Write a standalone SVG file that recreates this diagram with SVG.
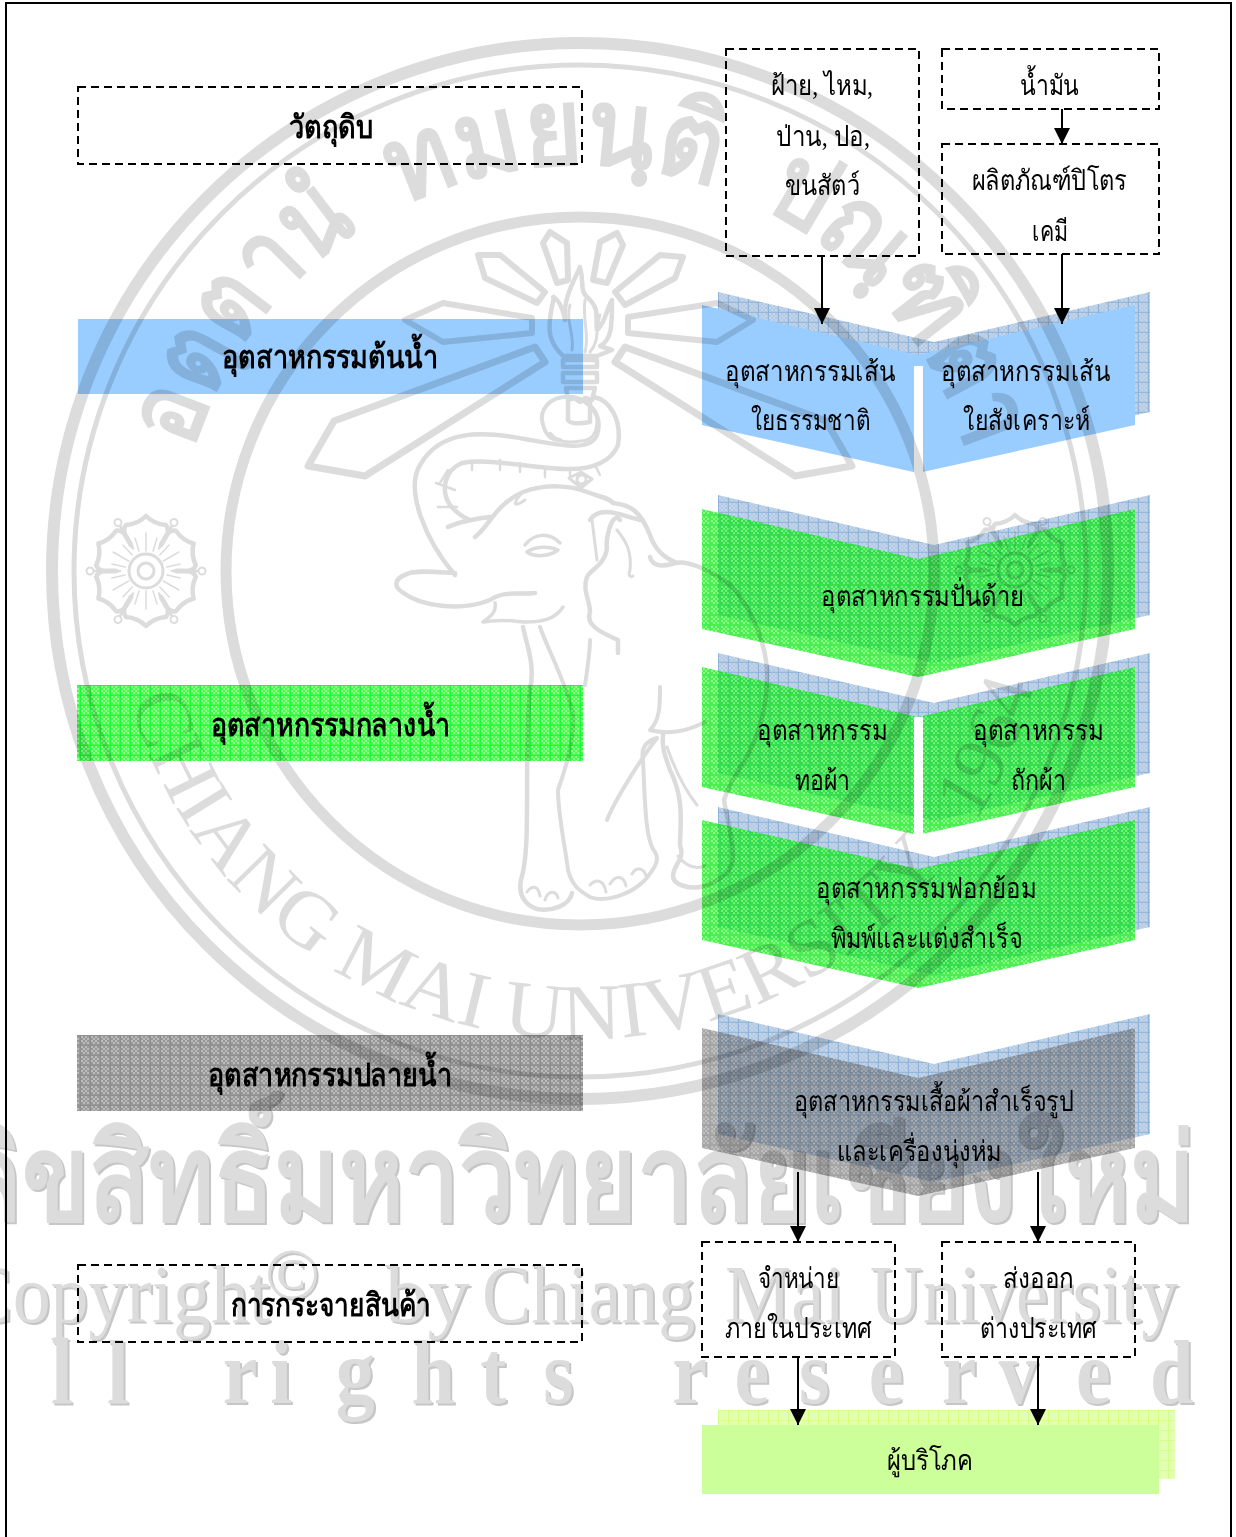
<svg xmlns="http://www.w3.org/2000/svg" xmlns:xlink="http://www.w3.org/1999/xlink" width="1236" height="1537" viewBox="0 0 1236 1537">
<style>
text{font-family:"Liberation Serif","DejaVu Serif","Noto Sans",serif;fill:#000;font-size:28px}
.b{font-weight:700;font-size:32px}
.dash{fill:none;stroke:#000;stroke-width:2;stroke-dasharray:8 5}
.arrow{fill:none;stroke:#000;stroke-width:2;marker-end:url(#ah)}
.wm{mix-blend-mode:multiply}
.wm path,.wm circle,.wm line,.wm polygon,.wm rect,#flower path,#flower circle{fill:none;stroke:#dcdcdc;stroke-width:4.5;stroke-linejoin:round;stroke-linecap:round}
.wm text{fill:#dcdcdc}
.wb{font-weight:700}
</style>
<defs>
<marker id="ah" markerUnits="userSpaceOnUse" markerWidth="18" markerHeight="18" refX="16" refY="8" orient="auto"><path d="M0,0L16,8L0,16Z" fill="#000"/></marker>
<pattern id="pg" width="10" height="10" patternUnits="userSpaceOnUse" x="0" y="5">
<rect width="10" height="10" fill="#44ff44"/>
<path d="M1,1h2v2h-2zM5,1h2v2h-2zM3,3h2v2h-2zM7,3h2v2h-2zM1,5h2v2h-2zM5,5h2v2h-2zM3,7h2v2h-2zM7,7h2v2h-2z" fill="#99ff99"/>
<path d="M0,0H10M0,0V10" stroke="#00f535" stroke-width="1.2"/>
</pattern>
<pattern id="pgc" width="10" height="10" patternUnits="userSpaceOnUse" x="0" y="5">
<rect width="10" height="10" fill="#00e800"/>
<path d="M1,1h2v2h-2zM5,1h2v2h-2zM3,3h2v2h-2zM7,3h2v2h-2zM1,5h2v2h-2zM5,5h2v2h-2zM3,7h2v2h-2zM7,7h2v2h-2z" fill="#55ff55"/>
<path d="M0,0H10M0,0V10" stroke="#00dd22" stroke-width="1.2"/>
</pattern>
<pattern id="pk" width="10" height="10" patternUnits="userSpaceOnUse" x="0" y="5">
<rect width="10" height="10" fill="#989898"/>
<path d="M1,1h2v2h-2zM5,1h2v2h-2zM3,3h2v2h-2zM7,3h2v2h-2zM1,5h2v2h-2zM5,5h2v2h-2zM3,7h2v2h-2zM7,7h2v2h-2z" fill="#bbbbbb"/>
<path d="M0,0H10M0,0V10" stroke="#868686" stroke-width="1.2"/>
</pattern>
<pattern id="pkc" width="10" height="10" patternUnits="userSpaceOnUse" x="0" y="5">
<rect width="10" height="10" fill="#606060"/>
<path d="M1,1h2v2h-2zM5,1h2v2h-2zM3,3h2v2h-2zM7,3h2v2h-2zM1,5h2v2h-2zM5,5h2v2h-2zM3,7h2v2h-2zM7,7h2v2h-2z" fill="#8a8a8a"/>
<path d="M0,0H10M0,0V10" stroke="#505050" stroke-width="1.2"/>
</pattern>
<pattern id="ps" width="10" height="10" patternUnits="userSpaceOnUse" x="8" y="2">
<rect width="10" height="10" fill="#b2c9e4"/>
<path d="M1,1h2v2h-2zM5,1h2v2h-2zM3,3h2v2h-2zM7,3h2v2h-2zM1,5h2v2h-2zM5,5h2v2h-2zM3,7h2v2h-2zM7,7h2v2h-2z" fill="#c6d6e8"/>
<path d="M0,0H10M0,0V10" stroke="#7ba7d4" stroke-width="1.2"/>
</pattern>
<pattern id="py" width="10" height="10" patternUnits="userSpaceOnUse" x="8" y="0">
<rect width="10" height="10" fill="#e2ffb2"/>
<path d="M0,0H10M0,0V10" stroke="#ccff66" stroke-width="1.2"/>
</pattern>
<path id="tp" d="M193,450A405,405 0 0 1 967,450" fill="none"/>
<path id="bp" d="M130,700A468,468 0 0 0 1048,571" fill="none"/>
<filter id="ds" x="-5%" y="-5%" width="110%" height="110%"><feFlood flood-color="#c6c6c6" result="c"/><feComposite in="c" in2="SourceAlpha" operator="in"/><feOffset dx="2" dy="2"/><feMerge><feMergeNode/><feMergeNode in="SourceGraphic"/></feMerge></filter>
<g id="flower">
<g id="lobe"><path d="M-15,-26C-20,-34 -25,-40 -20,-46Q-8,-47 0,-55Q8,-47 20,-46C25,-40 20,-34 15,-26"/><path d="M0,-20V-38M-7,-20L-11,-33M7,-20L11,-33" style="stroke-width:1.5"/></g>
<use xlink:href="#lobe" transform="rotate(60)"/><use xlink:href="#lobe" transform="rotate(120)"/><use xlink:href="#lobe" transform="rotate(180)"/><use xlink:href="#lobe" transform="rotate(240)"/><use xlink:href="#lobe" transform="rotate(300)"/>
<g id="sp"><path d="M0,-26V-52" transform="rotate(30)" style="stroke-width:2.5"/><circle cx="0" cy="-56" r="3.5" transform="rotate(30)" style="stroke-width:2"/></g>
<use xlink:href="#sp" transform="rotate(60)"/><use xlink:href="#sp" transform="rotate(120)"/><use xlink:href="#sp" transform="rotate(180)"/><use xlink:href="#sp" transform="rotate(240)"/><use xlink:href="#sp" transform="rotate(300)"/>
<circle r="8" style="stroke-width:3"/><circle r="17" style="stroke-width:3"/>
</g>
</defs>
<rect width="1236" height="1537" fill="#fff"/>
<path d="M6,1537V3H1231V1537" fill="none" stroke="#000" stroke-width="2"/>

<g id="node-raw-label"><rect class="dash" x="78" y="87" width="504" height="77"/><text class="b" x="289" y="138" textLength="84" lengthAdjust="spacingAndGlyphs">วัตถุดิบ</text></g>
<g id="node-up-label"><rect x="78" y="319" width="505" height="75" fill="#99ccff"/><text class="b" x="222" y="368" textLength="216" lengthAdjust="spacingAndGlyphs">อุตสาหกรรมต้นน้ำ</text></g>
<g id="node-mid-label"><rect x="77" y="685" width="506" height="76" fill="url(#pg)"/><text class="b" x="211" y="736" textLength="239" lengthAdjust="spacingAndGlyphs">อุตสาหกรรมกลางน้ำ</text></g>
<g id="node-down-label"><rect x="77" y="1035" width="506" height="76" fill="url(#pk)"/><text class="b" x="208" y="1086" textLength="244" lengthAdjust="spacingAndGlyphs">อุตสาหกรรมปลายน้ำ</text></g>
<g id="node-dist-label"><rect class="dash" x="78" y="1265" width="504" height="77"/><text class="b" x="231" y="1316" textLength="200" lengthAdjust="spacingAndGlyphs">การกระจายสินค้า</text></g>

<g id="node-natural-raw"><rect class="dash" x="726" y="49" width="193" height="207"/><text x="771" y="95" textLength="102" lengthAdjust="spacingAndGlyphs">ฝ้าย, ไหม,</text><text x="776" y="146" textLength="94" lengthAdjust="spacingAndGlyphs">ป่าน, ปอ,</text><text x="785" y="195" textLength="75" lengthAdjust="spacingAndGlyphs">ขนสัตว์</text></g>
<g id="node-oil"><rect class="dash" x="942" y="49" width="217" height="60"/><text x="1020" y="95" textLength="59" lengthAdjust="spacingAndGlyphs">น้ำมัน</text></g>
<g id="node-petro"><rect class="dash" x="942" y="144" width="217" height="110"/><text x="972" y="190" textLength="155" lengthAdjust="spacingAndGlyphs">ผลิตภัณฑ์ปิโตร</text><text x="1032" y="241" textLength="36" lengthAdjust="spacingAndGlyphs">เคมี</text></g>

<g id="node-fiber">
<polygon points="718,292 934,342 1150,292 1150,412 934,460 718,412" fill="url(#ps)"/>
<polygon points="702,305 918,355 1135,305 1135,425 918,473 702,425" fill="#99ccff"/>
<rect x="914" y="366" width="9" height="109" fill="#fff"/>
<text x="725" y="381" textLength="170" lengthAdjust="spacingAndGlyphs">อุตสาหกรรมเส้น</text><text x="751" y="430" textLength="119" lengthAdjust="spacingAndGlyphs">ใยธรรมชาติ</text>
<text x="941" y="381" textLength="169" lengthAdjust="spacingAndGlyphs">อุตสาหกรรมเส้น</text><text x="963" y="430" textLength="127" lengthAdjust="spacingAndGlyphs">ใยสังเคราะห์</text>
</g>
<g id="node-spin">
<polygon points="718,495 934,545 1150,495 1150,615 934,663 718,615" fill="url(#ps)"/>
<polygon opacity=".7" points="702,509 918,559 1135,509 1135,629 918,677 702,629" fill="url(#pgc)"/>
<text x="821" y="606" textLength="203" lengthAdjust="spacingAndGlyphs">อุตสาหกรรมปั่นด้าย</text>
</g>
<g id="node-weave">
<polygon points="718,653 934,703 1150,653 1150,773 934,821 718,773" fill="url(#ps)"/>
<polygon opacity=".7" points="702,667 918,717 1135,667 1135,787 918,835 702,787" fill="url(#pgc)"/>
<rect x="914" y="717" width="9" height="120" fill="#fff"/>
<text x="757" y="740" textLength="130" lengthAdjust="spacingAndGlyphs">อุตสาหกรรม</text><text x="795" y="790" textLength="55" lengthAdjust="spacingAndGlyphs">ทอผ้า</text>
<text x="973" y="740" textLength="130" lengthAdjust="spacingAndGlyphs">อุตสาหกรรม</text><text x="1011" y="790" textLength="55" lengthAdjust="spacingAndGlyphs">ถักผ้า</text>
</g>
<g id="node-dye">
<polygon points="718,807 934,857 1150,807 1150,927 934,975 718,927" fill="url(#ps)"/>
<polygon opacity=".7" points="702,820 918,869 1135,820 1135,940 918,988 702,940" fill="url(#pgc)"/>
<text x="816" y="898" textLength="220" lengthAdjust="spacingAndGlyphs">อุตสาหกรรมฟอกย้อม</text><text x="831" y="948" textLength="191" lengthAdjust="spacingAndGlyphs">พิมพ์และแต่งสำเร็จ</text>
</g>
<g id="node-garment">
<polygon points="718,1014 934,1064 1150,1014 1150,1134 934,1182 718,1134" fill="url(#ps)"/>
<polygon opacity=".55" points="702,1028 918,1078 1135,1028 1135,1148 918,1196 702,1148" fill="url(#pkc)"/>
<text x="794" y="1111" textLength="280" lengthAdjust="spacingAndGlyphs">อุตสาหกรรมเสื้อผ้าสำเร็จรูป</text><text x="837" y="1161" textLength="164" lengthAdjust="spacingAndGlyphs">และเครื่องนุ่งห่ม</text>
</g>
<g id="node-domestic"><rect class="dash" x="702" y="1242" width="193" height="115"/><text x="758" y="1288" textLength="81" lengthAdjust="spacingAndGlyphs">จำหน่าย</text><text x="725" y="1338" textLength="147" lengthAdjust="spacingAndGlyphs">ภายในประเทศ</text></g>
<g id="node-export"><rect class="dash" x="942" y="1242" width="193" height="115"/><text x="1003" y="1288" textLength="71" lengthAdjust="spacingAndGlyphs">ส่งออก</text><text x="980" y="1338" textLength="117" lengthAdjust="spacingAndGlyphs">ต่างประเทศ</text></g>
<g id="node-consumer"><rect x="718" y="1410" width="457" height="69" fill="url(#py)"/><rect x="702" y="1425" width="457" height="69" fill="#ccff99"/><text x="887" y="1470" textLength="86" lengthAdjust="spacingAndGlyphs">ผู้บริโภค</text></g>

<g id="connectors">
<path class="arrow" d="M1062,109V144"/><path class="arrow" d="M822,256V324"/><path class="arrow" d="M1062,254V324"/>
<path class="arrow" d="M798,1172V1242"/><path class="arrow" d="M1038,1172V1242"/>
<path class="arrow" d="M798,1357V1425"/><path class="arrow" d="M1038,1357V1425"/>
</g>

<g class="wm" id="watermark">
<circle cx="580" cy="571" r="528" style="stroke-width:12"/>
<circle cx="580" cy="571" r="506" style="stroke-width:5"/>
<circle cx="580" cy="571" r="354" style="stroke-width:11"/>
<text class="wb" style="font-size:108px"><textPath xlink:href="#tp" textLength="282" lengthAdjust="spacingAndGlyphs">อตฺตานํ</textPath></text>
<text class="wb" style="font-size:108px"><textPath xlink:href="#tp" startOffset="330" textLength="322" lengthAdjust="spacingAndGlyphs">ทมยนฺติ</textPath></text>
<text class="wb" style="font-size:108px"><textPath xlink:href="#tp" startOffset="702" textLength="330" lengthAdjust="spacingAndGlyphs">ปณฺฑิตา</textPath></text>
<text style="font-size:80px"><textPath xlink:href="#bp" textLength="1025" lengthAdjust="spacingAndGlyphs">CHIANG MAI UNIVERSITY</textPath></text>
<text style="font-size:75px"><textPath xlink:href="#bp" startOffset="1075">1964</textPath></text>
<use xlink:href="#flower" x="146" y="571"/><use xlink:href="#flower" x="1015" y="570"/>
<g id="rays">
<polygon style="stroke-width:6" points="543,243 550,232 567,243 568,280 557,283"/>
<polygon style="stroke-width:6" points="593,280 600,242 617,233 623,245 607,283"/>
<polygon style="stroke-width:6" points="478,255 500,255 545,292 537,303 485,278"/>
<polygon style="stroke-width:6" points="615,292 660,255 683,257 675,278 625,305"/>
<polygon style="stroke-width:6" points="532,318 443,303 405,320 443,342 532,333"/>
<polygon style="stroke-width:6" points="628,317 717,303 753,320 717,342 628,333"/>
<polygon style="stroke-width:7" points="535,347 545,362 365,476 308,466 334,421"/>
<polygon style="stroke-width:7" points="625,347 615,362 795,476 852,466 826,421"/>
</g>
<g id="torch">
<path d="M580,267C585,285 578,290 590,300C600,310 595,320 597,330C606,322 606,310 612,300C612,325 612,340 600,346L612,350L597,356H563C552,345 548,335 550,320C551,305 556,295 553,297C560,300 563,310 565,320C563,300 572,285 580,267Z"/>
<path d="M570,305C565,320 575,335 572,350M585,300C582,320 590,335 585,352M600,315C595,330 600,340 590,352" style="stroke-width:3"/>
<rect x="563" y="360" width="34" height="7"/><rect x="563" y="373" width="34" height="9"/>
<path d="M566,388H595L592,400L585,398L580,402L574,398L568,400ZM568,400V420C570,424 578,424 590,422V400"/>
</g>
<g id="elephant">
<path d="M455,575C425,540 405,490 420,465C440,430 480,430 530,440C560,445 590,452 597,435C603,415 590,400 572,397M594,397C610,400 622,420 618,445C612,460 595,470 565,469C530,468 490,458 462,463C445,470 440,490 450,505C458,515 465,518 470,520"/>
<path d="M572,397C550,395 538,410 543,425C547,438 553,440 560,440" style="stroke-width:4"/>
<path d="M550,433C556,441 565,444 580,441C592,441 597,432 597,420" style="stroke-width:3"/>
<path d="M448,470L440,483M472,461V470M500,460V470M520,463V472M545,468V477M570,468V477M595,465L600,475M455,490L436,483M457,507L438,507" style="stroke-width:2.5"/>
<path d="M569,478L581,472L592,479L581,488ZM577,479A4,4 0 1 0 586,480A4,4 0 1 0 577,479" style="stroke-width:3"/>
<path d="M448,527C458,522 480,518 490,517M475,537C490,525 495,505 523,492C545,484 570,485 587,492C600,497 610,498 613,503C630,505 640,510 650,535C655,550 665,558 675,562"/>
<path d="M650,557C652,565 660,568 675,563C688,560 710,570 730,585C750,605 765,640 767,670C768,700 762,730 745,760C735,775 727,790 724,800C727,820 733,835 733,857C733,872 720,880 705,886C690,890 672,885 673,875C675,862 685,860 680,845C680,825 685,800 670,770C665,755 662,750 663,735"/>
<path d="M590,520C600,505 620,515 640,520M620,520C612,510 605,540 607,548C605,565 590,570 587,577C582,590 590,600 590,612C585,625 600,632 618,640L618,653"/>
<path d="M617,530C625,540 632,550 630,570C628,575 630,578 633,576M597,560L592,520M523,492C515,500 510,510 525,500" style="stroke-width:3"/>
<path d="M455,573C435,572 415,570 407,574C395,578 393,586 402,592C420,606 460,612 490,600C505,590 520,595 535,593"/>
<path d="M495,603C497,612 490,617 483,622C505,618 515,622 525,622C540,622 555,620 563,607M527,552C535,546 550,546 558,550C550,556 535,558 527,552ZM525,545C535,532 550,533 560,543" style="stroke-width:3.5"/>
<path d="M523,627C528,650 535,665 530,690C527,720 527,760 527,800C527,830 527,860 521,880C518,895 525,905 537,909C552,912 570,905 572,893"/>
<path d="M540,627C548,650 565,680 573,713C575,740 565,770 558,790C558,815 565,845 568,870C572,885 578,890 590,897C605,903 630,895 645,880C655,868 660,860 655,852C645,840 645,800 643,760C640,745 650,740 657,738C640,760 615,800 607,820" style="stroke-width:4"/>
<path d="M590,640C590,650 588,665 585,685M660,687C660,705 660,720 650,730C670,735 690,730 705,722" style="stroke-width:4"/>
<path d="M667,747C675,770 685,790 697,805M527,892C532,885 538,885 540,896M545,900C548,890 556,890 558,898M590,885C596,878 604,880 606,892M610,884C616,874 624,876 626,886M632,874C636,866 644,868 646,876M678,856C686,866 695,870 705,866" style="stroke-width:3"/>
</g>
<text class="wb" style="font-size:120px" x="-270" y="1220" textLength="1465" lengthAdjust="spacingAndGlyphs" filter="url(#ds)">สงวนลิขสิทธิ์มหาวิทยาลัยเชียงใหม่</text>
<g filter="url(#ds)">
<text style="font-size:82px" x="-38" y="1322" textLength="308" lengthAdjust="spacingAndGlyphs">Copyright</text>
<text style="font-size:72px" x="265" y="1298">©</text>
<text style="font-size:82px" x="385" y="1322" textLength="85" lengthAdjust="spacingAndGlyphs">by</text>
<text style="font-size:82px" x="482" y="1322" textLength="213" lengthAdjust="spacingAndGlyphs">Chiang</text>
<text style="font-size:82px" x="725" y="1322" textLength="120" lengthAdjust="spacingAndGlyphs">Mai</text>
<text style="font-size:82px" x="870" y="1322" textLength="308" lengthAdjust="spacingAndGlyphs">University</text>
<text class="wb" style="font-size:92px" y="1403" transform="scale(.85,1)" x="-71 60 126 262 318 395 484 565 639 791 864 940 1022 1108 1175 1266 1353">Allrightsreserved</text>
</g>
</g>
</svg>
